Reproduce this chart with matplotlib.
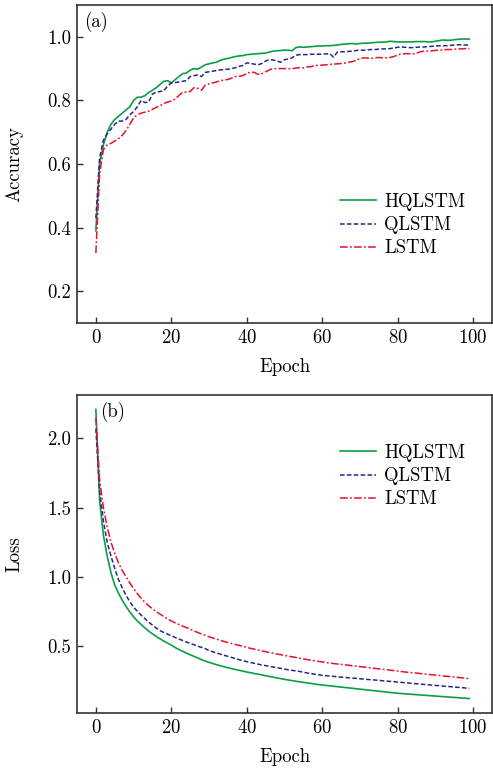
import numpy as np
import matplotlib
matplotlib.use("Agg")
import matplotlib.pyplot as plt

plt.rcParams["font.family"] = "serif"
plt.rcParams["font.serif"] = ["cmr10"]
plt.rcParams["mathtext.fontset"] = "cm"
plt.rcParams["axes.formatter.use_mathtext"] = True
FS = 13.5
plt.rcParams["font.size"] = FS

# epochs 0..99
epochs = list(range(100))

acc_hqlstm = [
    0.39, 0.60, 0.66, 0.70, 0.725, 0.74, 0.75, 0.76, 0.77, 0.78,
    0.80, 0.81, 0.81, 0.815, 0.825, 0.832, 0.84, 0.85, 0.86, 0.862,
    0.855, 0.865, 0.875, 0.884, 0.886, 0.895, 0.90, 0.898, 0.905, 0.912,
    0.915, 0.918, 0.92, 0.926, 0.93, 0.932, 0.935, 0.938, 0.94, 0.941,
    0.944, 0.945, 0.946, 0.947, 0.948, 0.949, 0.952, 0.955, 0.956, 0.957,
    0.958, 0.958, 0.956, 0.966, 0.968, 0.967, 0.968, 0.969, 0.970, 0.971,
    0.971, 0.972, 0.972, 0.973, 0.974, 0.976, 0.977, 0.978, 0.979, 0.977,
    0.979, 0.980, 0.980, 0.981, 0.982, 0.983, 0.983, 0.984, 0.986, 0.985,
    0.984, 0.984, 0.984, 0.984, 0.984, 0.985, 0.985, 0.985, 0.984, 0.984,
    0.986, 0.988, 0.990, 0.989, 0.989, 0.991, 0.992, 0.993, 0.993, 0.993,
]
acc_qlstm = [
    0.43, 0.62, 0.675, 0.695, 0.71, 0.725, 0.735, 0.735, 0.74, 0.755,
    0.765, 0.78, 0.80, 0.793, 0.795, 0.82, 0.826, 0.828, 0.83, 0.845,
    0.855, 0.856, 0.858, 0.86, 0.862, 0.875, 0.878, 0.88, 0.875, 0.888,
    0.89, 0.892, 0.894, 0.896, 0.897, 0.898, 0.90, 0.903, 0.907, 0.91,
    0.918, 0.916, 0.914, 0.912, 0.916, 0.924, 0.928, 0.927, 0.924, 0.92,
    0.928, 0.93, 0.934, 0.942, 0.944, 0.944, 0.944, 0.945, 0.945, 0.945,
    0.946, 0.946, 0.947, 0.936, 0.952, 0.953, 0.953, 0.954, 0.955, 0.957,
    0.958, 0.958, 0.959, 0.96, 0.96, 0.961, 0.962, 0.962, 0.963, 0.965,
    0.967, 0.968, 0.967, 0.966, 0.966, 0.967, 0.968, 0.968, 0.969, 0.97,
    0.971, 0.972, 0.972, 0.972, 0.973, 0.974, 0.975, 0.975, 0.974, 0.974,
]
acc_lstm = [
    0.32, 0.57, 0.645, 0.66, 0.665, 0.672, 0.68, 0.69, 0.705, 0.725,
    0.745, 0.755, 0.76, 0.763, 0.766, 0.772, 0.778, 0.783, 0.79, 0.795,
    0.798, 0.805, 0.815, 0.826, 0.826, 0.828, 0.84, 0.838, 0.832, 0.848,
    0.852, 0.855, 0.858, 0.862, 0.864, 0.866, 0.87, 0.875, 0.876, 0.878,
    0.885, 0.889, 0.888, 0.882, 0.884, 0.89, 0.896, 0.90, 0.90, 0.90,
    0.90, 0.90, 0.899, 0.902, 0.903, 0.902, 0.905, 0.906, 0.91, 0.91,
    0.911, 0.912, 0.913, 0.914, 0.915, 0.916, 0.917, 0.92, 0.922, 0.926,
    0.932, 0.934, 0.933, 0.932, 0.934, 0.935, 0.934, 0.934, 0.935, 0.938,
    0.943, 0.946, 0.947, 0.947, 0.946, 0.948, 0.953, 0.955, 0.955, 0.956,
    0.957, 0.958, 0.959, 0.96, 0.96, 0.961, 0.962, 0.962, 0.963, 0.962,
]

loss_hqlstm = [
    2.21, 1.55, 1.30, 1.15, 1.03, 0.94, 0.88, 0.83, 0.785, 0.745,
    0.71, 0.68, 0.655, 0.63, 0.607, 0.587, 0.568, 0.551, 0.535, 0.52,
    0.506, 0.488, 0.474, 0.461, 0.448, 0.436, 0.424, 0.413, 0.40, 0.39,
    0.381, 0.372, 0.364, 0.356, 0.349, 0.342, 0.335, 0.329, 0.323, 0.317,
    0.311, 0.306, 0.30, 0.295, 0.29, 0.284, 0.279, 0.274, 0.268, 0.263,
    0.258, 0.253, 0.249, 0.244, 0.240, 0.236, 0.232, 0.228, 0.224, 0.220,
    0.217, 0.214, 0.211, 0.208, 0.205, 0.202, 0.199, 0.196, 0.193, 0.190,
    0.187, 0.184, 0.181, 0.178, 0.175, 0.172, 0.169, 0.166, 0.163, 0.160,
    0.157, 0.155, 0.153, 0.151, 0.149, 0.147, 0.145, 0.143, 0.141, 0.139,
    0.137, 0.135, 0.133, 0.131, 0.129, 0.127, 0.125, 0.123, 0.121, 0.119,
]
loss_qlstm = [
    2.07, 1.62, 1.40, 1.25, 1.15, 1.06, 0.98, 0.92, 0.865, 0.82,
    0.78, 0.75, 0.722, 0.697, 0.672, 0.65, 0.629, 0.61, 0.597, 0.585,
    0.573, 0.561, 0.55, 0.539, 0.528, 0.518, 0.508, 0.498, 0.489, 0.48,
    0.466, 0.457, 0.448, 0.44, 0.432, 0.424, 0.416, 0.408, 0.40, 0.393,
    0.386, 0.38, 0.374, 0.368, 0.362, 0.357, 0.352, 0.347, 0.342, 0.337,
    0.332, 0.327, 0.323, 0.319, 0.315, 0.309, 0.304, 0.30, 0.295, 0.291,
    0.287, 0.284, 0.282, 0.279, 0.277, 0.274, 0.272, 0.269, 0.267, 0.265,
    0.262, 0.26, 0.257, 0.255, 0.253, 0.25, 0.248, 0.245, 0.243, 0.241,
    0.238, 0.236, 0.233, 0.231, 0.228, 0.226, 0.224, 0.221, 0.219, 0.216,
    0.214, 0.212, 0.209, 0.207, 0.205, 0.202, 0.20, 0.198, 0.195, 0.193,
]
loss_lstm = [
    2.15, 1.70, 1.50, 1.36, 1.25, 1.17, 1.10, 1.045, 1.0, 0.955,
    0.915, 0.878, 0.845, 0.815, 0.79, 0.768, 0.748, 0.73, 0.712, 0.695,
    0.68, 0.667, 0.655, 0.643, 0.632, 0.621, 0.608, 0.597, 0.586, 0.576,
    0.566, 0.557, 0.548, 0.54, 0.532, 0.524, 0.517, 0.51, 0.503, 0.496,
    0.489, 0.482, 0.476, 0.47, 0.464, 0.458, 0.452, 0.447, 0.441, 0.436,
    0.431, 0.426, 0.421, 0.416, 0.411, 0.406, 0.401, 0.396, 0.392, 0.388,
    0.384, 0.379, 0.376, 0.372, 0.369, 0.366, 0.363, 0.36, 0.356, 0.353,
    0.35, 0.347, 0.344, 0.34, 0.337, 0.334, 0.331, 0.328, 0.324, 0.321,
    0.318, 0.314, 0.311, 0.308, 0.305, 0.303, 0.30, 0.297, 0.294, 0.291,
    0.289, 0.286, 0.283, 0.28, 0.277, 0.275, 0.272, 0.269, 0.266, 0.263,
]

labels = ["HQLSTM", "QLSTM", "LSTM"]
GREEN = "#0a9e46"
BLUE = "#262690"
RED = "#e8102a"

W, H = 493, 769
fig = plt.figure(figsize=(W / 100, H / 100), dpi=100)
ax1 = fig.add_axes([77 / W, 1 - 323 / H, 415 / W, 318 / H])
ax2 = fig.add_axes([77 / W, 1 - 713 / H, 415 / W, 318 / H])


def style_axes(ax):
    for sp in ax.spines.values():
        sp.set_color("#333333")
        sp.set_linewidth(1.2)
    ax.tick_params(direction="in", length=4, width=1.0, color="#333333",
                   pad=4, labelsize=FS, top=False, right=False)
    ax.set_xlim(-5, 105)
    ax.set_xticks([0, 20, 40, 60, 80, 100])
    ax.set_xlabel("Epoch", fontsize=FS, labelpad=8)


def add_legend(ax, top_px):
    ax.legend(loc="upper left", bbox_to_anchor=(340 / W, 1 - top_px / H),
              bbox_transform=fig.transFigure, frameon=False, borderpad=0,
              borderaxespad=0, handlelength=1.9, handletextpad=0.45,
              labelspacing=0.28, fontsize=FS)


# (a) accuracy
ax1.plot(epochs, acc_hqlstm, color=GREEN, lw=1.2, ls="-", label=labels[0])
ax1.plot(epochs, acc_qlstm, color=BLUE, lw=1.1, ls=(0, (3, 1.5)), label=labels[1])
ax1.plot(epochs, acc_lstm, color=RED, lw=1.1, ls=(0, (5, 1.5, 1.2, 1.5)), label=labels[2])
style_axes(ax1)
ax1.set_ylim(0.1, 1.1)
ax1.set_yticks([0.2, 0.4, 0.6, 0.8, 1.0])
ax1.set_yticklabels(["0.2", "0.4", "0.6", "0.8", "1.0"])
ax1.set_ylabel("Accuracy", fontsize=FS, labelpad=17)
ax1.text(84 / W, 1 - 22 / H, "(a)", transform=fig.transFigure, fontsize=FS,
         ha="left", va="center")
add_legend(ax1, 193)

# (b) loss
ax2.plot(epochs, loss_hqlstm, color=GREEN, lw=1.2, ls="-", label=labels[0])
ax2.plot(epochs, loss_qlstm, color=BLUE, lw=1.1, ls=(0, (3, 1.5)), label=labels[1])
ax2.plot(epochs, loss_lstm, color=RED, lw=1.1, ls=(0, (5, 1.5, 1.2, 1.5)), label=labels[2])
style_axes(ax2)
ax2.set_yticks([0.5, 1.0, 1.5, 2.0])
ax2.set_yticklabels(["0.5", "1.0", "1.5", "2.0"])
ax2.set_ylabel("Loss", fontsize=FS, labelpad=17)
ax2.text(100 / W, 1 - 412 / H, "(b)", transform=fig.transFigure, fontsize=FS,
         ha="left", va="center")
add_legend(ax2, 444)

fig.savefig("out.png", dpi=100)
